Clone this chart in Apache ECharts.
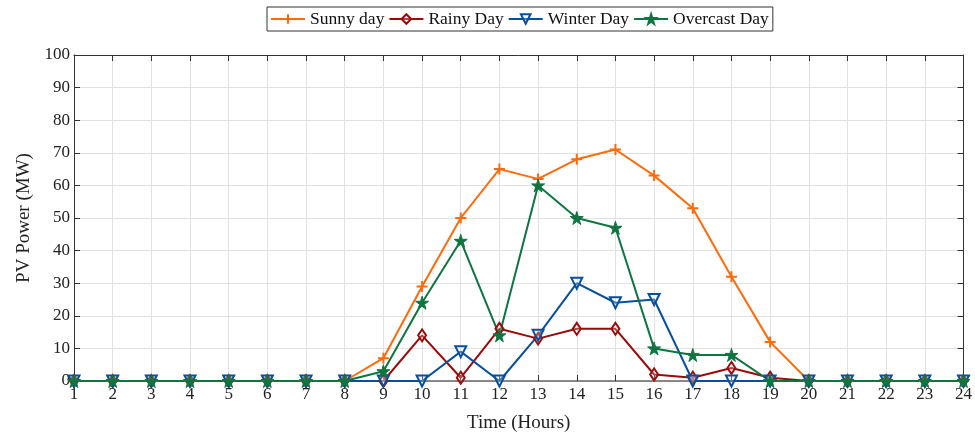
<!DOCTYPE html>
<html><head><meta charset="utf-8">
<script src="https://cdn.jsdelivr.net/npm/echarts@6/dist/echarts.min.js"></script>
<style>html,body{margin:0;padding:0;background:#fff}#c{width:975px;height:438px}</style>
</head><body><div id="c"></div>
<script>
const hours = [1,2,3,4,5,6,7,8,9,10,11,12,13,14,15,16,17,18,19,20,21,22,23,24];
const sunny =    [0,0,0,0,0,0,0,0,7,29,50,65,62,68,71,63,53,32,12,0,0,0,0,0];
const rainy =    [0,0,0,0,0,0,0,0,0,14,1,16,13,16,16,2,1,4,1,0,0,0,0,0];
const winter =   [0,0,0,0,0,0,0,0,0,0,9,0,14,30,24,25,0,0,0,0,0,0,0,0];
const overcast = [0,0,0,0,0,0,0,0,3,24,43,14,60,50,47,10,8,8,0,0,0,0,0,0];
const seriesNames = ['Sunny day','Rainy Day','Winter Day','Overcast Day'];
const yTicks = [0,10,20,30,40,50,60,70,80,90,100];

const FONT = 'Liberation Serif';
const pair = arr => hours.map((h,i)=>[h,arr[i]]);
const PLUS = 'path://M0,5L10,5M5,0L5,10';
const STAR = 'path://M50,0L61,35L98,35L68,57L79,91L50,70L21,91L32,57L2,35L39,35Z';
const DIAM = 'path://M5,0L10,8L5,16L0,8Z';
const cols = ['#ff6a0a','#9a0a0a','#0a4f9a','#0f7540'];
const CLEAR = 'rgba(255,255,255,0.25)';

function mk(name, data, color, symbol, size, extra){
  return Object.assign({
    name, type:'line', data: pair(data), symbol, symbolSize:size,
    lineStyle:{color, width:2},
    itemStyle:{color, borderColor:color, borderWidth:1.5},
    emphasis:{disabled:true}, animation:false
  }, extra||{});
}

const chart = echarts.init(document.getElementById('c'), null, {renderer:'canvas'});
chart.setOption({
  animation:false,
  textStyle:{fontFamily:FONT},
  legend:{
    top:7, left:267, itemGap:4, itemWidth:34, itemHeight:12,
    borderColor:'#333', borderWidth:1, borderRadius:0, padding:[3,4,3,3],
    textStyle:{fontFamily:FONT, fontSize:17.5, color:'#111'},
    data: seriesNames
  },
  grid:{left:74, right:10, top:55, bottom:53, containLabel:false},
  xAxis:[{
    type:'value', min:1, max:24, interval:1,
    name:'Time (Hours)', nameLocation:'middle', nameGap:33,
    nameTextStyle:{fontFamily:FONT, fontSize:19, color:'#222'},
    axisLine:{lineStyle:{color:'#666', width:1.5}},
    axisTick:{inside:true, length:6, lineStyle:{color:'#333'}},
    axisLabel:{fontFamily:FONT, fontSize:17, color:'#222', margin:5},
    splitLine:{show:true, lineStyle:{color:'#e2e2e2', width:1}}
  },{
    type:'value', min:1, max:24, interval:1, position:'top',
    axisLine:{show:true, onZero:false, lineStyle:{color:'#333', width:1}},
    axisTick:{show:true, inside:true, length:6, lineStyle:{color:'#333'}},
    axisLabel:{show:false}, splitLine:{show:false}
  }],
  yAxis:[{
    type:'value', min:0, max:100, interval:10,
    name:'PV Power (MW)', nameLocation:'middle', nameGap:38,
    nameTextStyle:{fontFamily:FONT, fontSize:19, color:'#222'},
    axisLine:{show:true, lineStyle:{color:'#333', width:1}},
    axisTick:{show:true, inside:true, length:6, lineStyle:{color:'#333'}},
    axisLabel:{fontFamily:FONT, fontSize:17, color:'#222', margin:4,
      formatter: v => yTicks.includes(v) ? String(v) : ''},
    splitLine:{show:true, lineStyle:{color:'#e2e2e2', width:1}}
  },{
    type:'value', min:0, max:100, interval:10, position:'right',
    axisLine:{show:true, onZero:false, lineStyle:{color:'#333', width:1}},
    axisTick:{show:true, inside:true, length:6, lineStyle:{color:'#333'}},
    axisLabel:{show:false}, splitLine:{show:false}
  }],
  series:[
    mk(seriesNames[0], sunny, cols[0], PLUS, 11, {itemStyle:{color:cols[0], borderColor:cols[0], borderWidth:2}}),
    mk(seriesNames[1], rainy, cols[1], DIAM, [8,12], {itemStyle:{color:CLEAR, borderColor:cols[1], borderWidth:2}}),
    mk(seriesNames[2], winter, cols[2], 'triangle', 11, {symbolRotate:180, itemStyle:{color:CLEAR, borderColor:cols[2], borderWidth:2}}),
    mk(seriesNames[3], overcast, cols[3], STAR, 13, {itemStyle:{color:cols[3], borderColor:cols[3], borderWidth:1}})
  ]
});
</script></body></html>
